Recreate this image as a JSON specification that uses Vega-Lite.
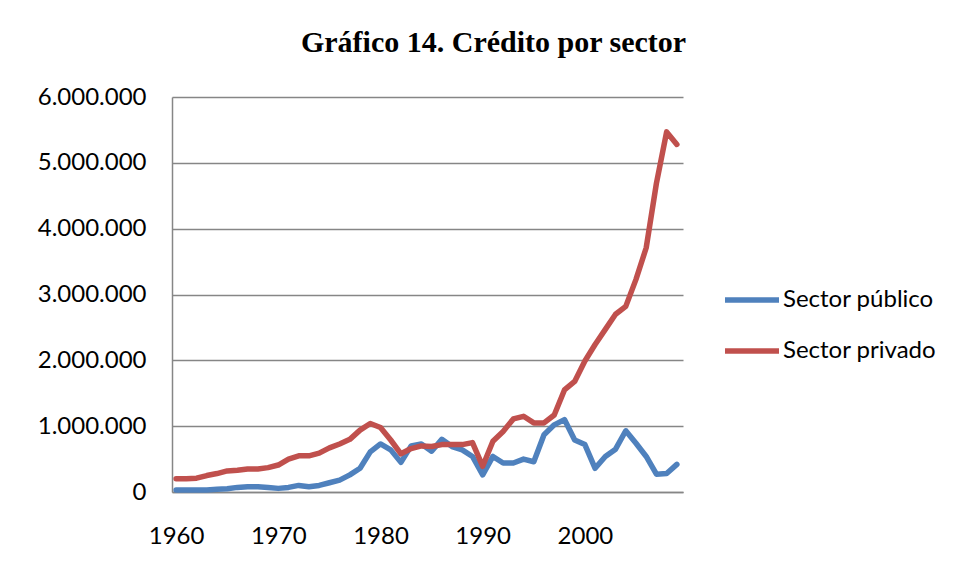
{
  "$schema": "https://vega.github.io/schema/vega-lite/v6.json",
  "width": 511,
  "height": 395,
  "autosize": {"type": "none"},
  "padding": {"left": 172, "top": 97, "right": 278, "bottom": 83},
  "background": "white",
  "title": {
    "text": "Gráfico 14. Crédito por sector",
    "font": "Liberation Serif",
    "fontSize": 30,
    "fontWeight": "bold",
    "color": "#000000",
    "anchor": "middle",
    "frame": "group",
    "dx": 66,
    "baseline": "alphabetic",
    "offset": 3
  },
  "config": {
    "locale": {"number": {"decimal": ",", "thousands": ".", "grouping": [3], "currency": ["", ""]}},
    "view": {"stroke": null},
    "font": "Lato"
  },
  "data": {
    "values": [
      {"year": 1960, "Sector público": 30000, "Sector privado": 200000},
      {"year": 1961, "Sector público": 30000, "Sector privado": 200000},
      {"year": 1962, "Sector público": 30000, "Sector privado": 210000},
      {"year": 1963, "Sector público": 30000, "Sector privado": 250000},
      {"year": 1964, "Sector público": 40000, "Sector privado": 280000},
      {"year": 1965, "Sector público": 50000, "Sector privado": 320000},
      {"year": 1966, "Sector público": 70000, "Sector privado": 330000},
      {"year": 1967, "Sector público": 80000, "Sector privado": 350000},
      {"year": 1968, "Sector público": 80000, "Sector privado": 350000},
      {"year": 1969, "Sector público": 70000, "Sector privado": 370000},
      {"year": 1970, "Sector público": 55000, "Sector privado": 410000},
      {"year": 1971, "Sector público": 70000, "Sector privado": 500000},
      {"year": 1972, "Sector público": 100000, "Sector privado": 550000},
      {"year": 1973, "Sector público": 80000, "Sector privado": 550000},
      {"year": 1974, "Sector público": 100000, "Sector privado": 590000},
      {"year": 1975, "Sector público": 140000, "Sector privado": 670000},
      {"year": 1976, "Sector público": 180000, "Sector privado": 730000},
      {"year": 1977, "Sector público": 260000, "Sector privado": 800000},
      {"year": 1978, "Sector público": 360000, "Sector privado": 940000},
      {"year": 1979, "Sector público": 610000, "Sector privado": 1040000},
      {"year": 1980, "Sector público": 730000, "Sector privado": 980000},
      {"year": 1981, "Sector público": 640000, "Sector privado": 790000},
      {"year": 1982, "Sector público": 450000, "Sector privado": 580000},
      {"year": 1983, "Sector público": 700000, "Sector privado": 660000},
      {"year": 1984, "Sector público": 730000, "Sector privado": 700000},
      {"year": 1985, "Sector público": 620000, "Sector privado": 690000},
      {"year": 1986, "Sector público": 800000, "Sector privado": 720000},
      {"year": 1987, "Sector público": 690000, "Sector privado": 720000},
      {"year": 1988, "Sector público": 640000, "Sector privado": 720000},
      {"year": 1989, "Sector público": 540000, "Sector privado": 750000},
      {"year": 1990, "Sector público": 260000, "Sector privado": 390000},
      {"year": 1991, "Sector público": 540000, "Sector privado": 770000},
      {"year": 1992, "Sector público": 440000, "Sector privado": 920000},
      {"year": 1993, "Sector público": 440000, "Sector privado": 1110000},
      {"year": 1994, "Sector público": 500000, "Sector privado": 1150000},
      {"year": 1995, "Sector público": 460000, "Sector privado": 1050000},
      {"year": 1996, "Sector público": 870000, "Sector privado": 1050000},
      {"year": 1997, "Sector público": 1020000, "Sector privado": 1170000},
      {"year": 1998, "Sector público": 1100000, "Sector privado": 1550000},
      {"year": 1999, "Sector público": 790000, "Sector privado": 1680000},
      {"year": 2000, "Sector público": 720000, "Sector privado": 1990000},
      {"year": 2001, "Sector público": 360000, "Sector privado": 2240000},
      {"year": 2002, "Sector público": 540000, "Sector privado": 2470000},
      {"year": 2003, "Sector público": 650000, "Sector privado": 2700000},
      {"year": 2004, "Sector público": 930000, "Sector privado": 2820000},
      {"year": 2005, "Sector público": 740000, "Sector privado": 3230000},
      {"year": 2006, "Sector público": 540000, "Sector privado": 3710000},
      {"year": 2007, "Sector público": 270000, "Sector privado": 4690000},
      {"year": 2008, "Sector público": 280000, "Sector privado": 5470000},
      {"year": 2009, "Sector público": 420000, "Sector privado": 5280000}
    ]
  },
  "transform": [
    {"fold": ["Sector público", "Sector privado"], "as": ["serie", "valor"]}
  ],
  "mark": {"type": "line", "strokeWidth": 5.5, "strokeJoin": "round", "strokeCap": "round"},
  "encoding": {
    "x": {
      "field": "year",
      "type": "quantitative",
      "scale": {"domain": [1959.6, 2009.6], "nice": false, "zero": false},
      "axis": {
        "title": null,
        "values": [1960, 1970, 1980, 1990, 2000],
        "format": "d",
        "grid": false,
        "ticks": false,
        "domainColor": "#868686",
        "domainWidth": 1.5,
        "labelFont": "Lato",
        "labelFontSize": 24,
        "labelColor": "#000000",
        "labelPadding": 32
      }
    },
    "y": {
      "field": "valor",
      "type": "quantitative",
      "scale": {"domain": [0, 6000000], "nice": false},
      "axis": {
        "title": null,
        "values": [0, 1000000, 2000000, 3000000, 4000000, 5000000, 6000000],
        "format": ",d",
        "grid": true,
        "gridColor": "#868686",
        "gridWidth": 1.5,
        "gridOpacity": 1,
        "ticks": false,
        "domainColor": "#868686",
        "domainWidth": 1.5,
        "labelFont": "Lato",
        "labelFontSize": 24,
        "labelColor": "#000000",
        "labelPadding": 26
      }
    },
    "color": {
      "field": "serie",
      "type": "nominal",
      "scale": {"domain": ["Sector público", "Sector privado"], "range": ["#4F81BD", "#C0504D"]},
      "legend": {
        "title": null,
        "orient": "none",
        "legendX": 563.5,
        "legendY": 186.5,
        "padding": 0,
        "symbolType": "M-2,0H2",
        "symbolSize": 729,
        "symbolStrokeWidth": 5.5,
        "labelOffset": 14.5,
        "rowPadding": 22,
        "labelFont": "Lato",
        "labelFontSize": 24,
        "labelColor": "#000000",
        "labelLimit": 300
      }
    }
  }
}
